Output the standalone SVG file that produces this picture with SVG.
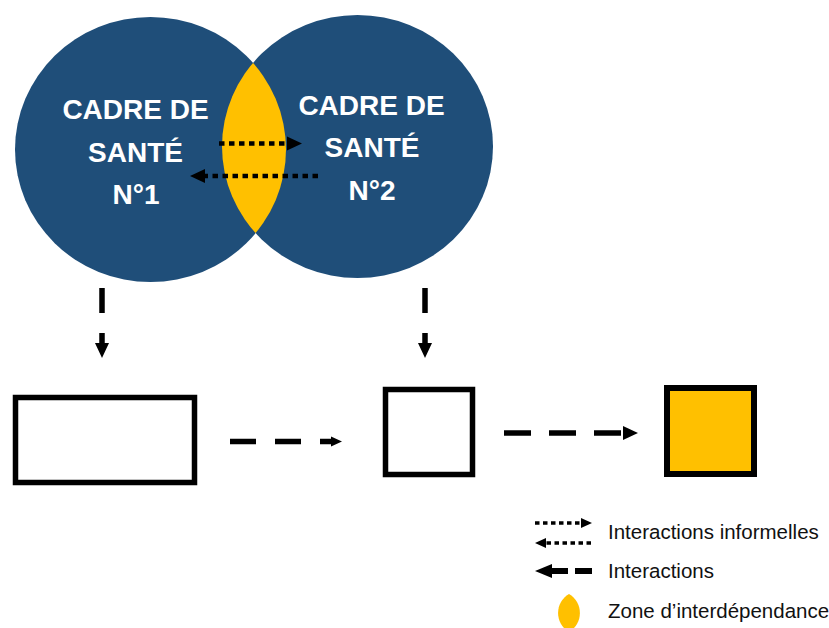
<svg xmlns="http://www.w3.org/2000/svg" width="829" height="628" viewBox="0 0 829 628">
<style>
.circle{fill:#1F4E79}
.lens{fill:#FFC000}
.ctext{font-family:"Liberation Sans",Arial,sans-serif;font-weight:bold;font-size:28px;fill:#fff;text-anchor:middle}
.box{fill:#fff;stroke:#000;stroke-width:5.5}
.boxo{fill:#FFC000;stroke:#000;stroke-width:6}
.dot{fill:none;stroke:#000;stroke-width:4.5;stroke-dasharray:5.5 4.5}
.dash{fill:none;stroke:#000;stroke-width:5.5}
.leg{font-family:"Liberation Sans",Arial,sans-serif;font-size:20.5px;fill:#111}
</style>
<defs>
<marker id="head" markerUnits="userSpaceOnUse" markerWidth="16" markerHeight="16" viewBox="0 0 16 16" refX="0" refY="8" orient="auto">
<path d="M0,1 L15,8 L0,15 Z" fill="#000"/>
</marker>
<marker id="headS" markerUnits="userSpaceOnUse" markerWidth="12" markerHeight="12" viewBox="0 0 12 12" refX="0" refY="6" orient="auto">
<path d="M0,1 L11,6 L0,11 Z" fill="#000"/>
</marker>
<clipPath id="clipL">
<ellipse cx="150.5" cy="149.5" rx="135.5" ry="132.5"/>
</clipPath>
</defs>

<g id="cadre1">
<ellipse class="circle" cx="150.5" cy="149.5" rx="135.5" ry="132.5"/>
</g>
<g id="cadre2">
<ellipse class="circle" cx="357.5" cy="146.5" rx="135.5" ry="131.5"/>
</g>
<g id="zone">
<ellipse class="lens" cx="357.5" cy="146.5" rx="135.5" ry="131.5" clip-path="url(#clipL)"/>
</g>
<g id="labels">
<text class="ctext" x="135.5" y="119">CADRE DE</text>
<text class="ctext" x="135.5" y="162">SANTÉ</text>
<text class="ctext" x="136" y="204">N°1</text>
<text class="ctext" x="371.5" y="115">CADRE DE</text>
<text class="ctext" x="372" y="157">SANTÉ</text>
<text class="ctext" x="372" y="200">N°2</text>
</g>

<g id="box1"><rect class="box" x="15.5" y="397.5" width="179" height="85"/></g>
<g id="box2"><rect class="box" x="385.5" y="389.5" width="87" height="85"/></g>
<g id="box3"><rect class="boxo" x="667" y="388" width="87" height="86"/></g>

<g id="connectors">
<path class="dot" d="M219,143.5 H287" marker-end="url(#head)"/>
<path class="dot" d="M318,176 H205" marker-end="url(#head)"/>
<path class="dash" d="M102,288 V343" stroke-dasharray="25 20" marker-end="url(#head)"/>
<path class="dash" d="M425,288 V343" stroke-dasharray="25 20" marker-end="url(#head)"/>
<path class="dash" d="M230,441.5 H331" stroke-dasharray="26 19" marker-end="url(#headS)"/>
<path class="dash" d="M504,433 H623" stroke-dasharray="27 18" marker-end="url(#head)"/>
</g>

<g id="legend">
<path d="M535,523 H581" fill="none" stroke="#000" stroke-width="3.5" stroke-dasharray="4.5 3.5" marker-end="url(#headS)"/>
<path d="M591,543 H546" fill="none" stroke="#000" stroke-width="3.5" stroke-dasharray="4.5 3.5" marker-end="url(#headS)"/>
<text class="leg" x="608" y="539">Interactions informelles</text>
<path d="M592,571 H575 M568,571 H552" fill="none" stroke="#000" stroke-width="6"/>
<path d="M552,564 L535,571 L552,578 Z" fill="#000"/>
<text class="leg" x="608" y="578">Interactions</text>
<path class="lens" d="M569,594 A22,22 0 0 1 569,632 A22,22 0 0 1 569,594 Z"/>
<text class="leg" x="608" y="618">Zone d’interdépendance</text>
</g>
</svg>
